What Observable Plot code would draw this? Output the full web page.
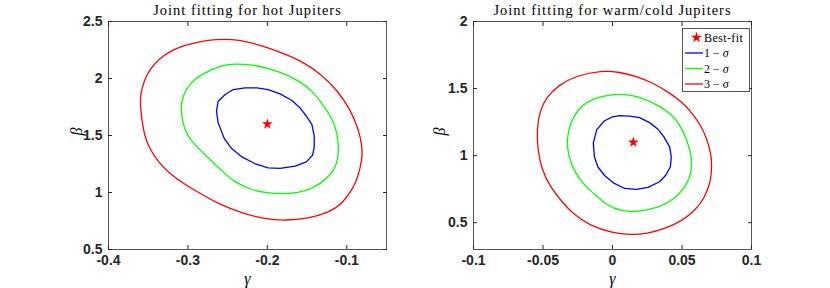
<!DOCTYPE html>
<html><head><meta charset="utf-8">
<script src="https://cdn.jsdelivr.net/npm/d3@7"></script>
<script src="https://cdn.jsdelivr.net/npm/@observablehq/plot@0.6"></script>
<style>
body{margin:0;background:#fff;}
#wrap{position:relative;width:830px;height:288px;overflow:hidden;background:#fff;}
.panel{position:absolute;top:0;}
.legend{position:absolute;left:682px;top:28px;width:68px;height:64px;border:1px solid #555;background:#fff;box-sizing:border-box;}
</style></head><body><div id="wrap"></div>
<script>
const titles = ["Joint fitting for hot Jupiters", "Joint fitting for warm/cold Jupiters"];
const levelNames = ["1", "2", "3"];
const levelColors = ["#0000ff", "#00ff00", "#ff0000"];
const bestLabel = "Best-fit";

const hotXTicks = [-0.4, -0.3, -0.2, -0.1];
const hotYTicks = [0.5, 1, 1.5, 2, 2.5];
const warmXTicks = [-0.1, -0.05, 0, 0.05, 0.1];
const warmYTicks = [0.5, 1, 1.5, 2];
const hotXDomain = [-0.4, -0.05];
const hotYDomain = [0.5, 2.5];
const warmXDomain = [-0.1, 0.1];
const warmYDomain = [0.3, 2];

const hotBest = [[-0.2, 1.6]];
const warmBest = [[0.015, 1.1]];

const hot1 = [[-0.228,1.917],[-0.213,1.917],[-0.199,1.903],[-0.184,1.865],[-0.169,1.807],[-0.159,1.743],[-0.151,1.671],[-0.144,1.598],[-0.141,1.497],[-0.141,1.399],[-0.143,1.327],[-0.151,1.269],[-0.165,1.231],[-0.184,1.211],[-0.199,1.216],[-0.216,1.254],[-0.232,1.312],[-0.245,1.385],[-0.254,1.470],[-0.262,1.613],[-0.264,1.714],[-0.262,1.801],[-0.253,1.859],[-0.243,1.903]];
const hot2 = [[-0.257,2.120],[-0.239,2.129],[-0.220,2.120],[-0.199,2.091],[-0.178,2.042],[-0.158,1.970],[-0.143,1.888],[-0.132,1.787],[-0.1225,1.695],[-0.114,1.578],[-0.110,1.434],[-0.111,1.289],[-0.116,1.190],[-0.1288,1.100],[-0.143,1.035],[-0.160,1.000],[-0.178,0.987],[-0.198,0.993],[-0.220,1.022],[-0.242,1.090],[-0.2587,1.202],[-0.2725,1.290],[-0.2865,1.385],[-0.3006,1.491],[-0.3069,1.608],[-0.309,1.752],[-0.3069,1.839],[-0.2986,1.956],[-0.2818,2.042]];
const hot3 = [[-0.264,2.343],[-0.245,2.344],[-0.226,2.325],[-0.207,2.288],[-0.182,2.227],[-0.158,2.158],[-0.133,2.043],[-0.112,1.897],[-0.095,1.723],[-0.085,1.549],[-0.0805,1.404],[-0.0805,1.289],[-0.0868,1.115],[-0.0931,1.028],[-0.106,0.898],[-0.123,0.825],[-0.148,0.773],[-0.178,0.753],[-0.203,0.767],[-0.232,0.819],[-0.262,0.901],[-0.284,0.990],[-0.304,1.072],[-0.322,1.160],[-0.337,1.265],[-0.347,1.370],[-0.353,1.463],[-0.357,1.578],[-0.3603,1.782],[-0.3594,1.869],[-0.3552,1.984],[-0.347,2.090],[-0.336,2.175],[-0.322,2.240],[-0.305,2.290],[-0.285,2.325]];

const warm1 = [[0.0052,1.298],[0.0124,1.295],[0.0195,1.283],[0.0267,1.246],[0.0327,1.197],[0.0370,1.140],[0.0412,1.063],[0.0423,0.989],[0.0416,0.915],[0.0383,0.854],[0.0339,0.805],[0.0255,0.763],[0.0171,0.748],[0.0088,0.755],[0.0006,0.797],[-0.0055,0.850],[-0.0105,0.915],[-0.0130,0.990],[-0.0138,1.093],[-0.0114,1.192],[-0.0060,1.258],[0.0000,1.289]];
const warm2 = [[0.0018,1.463],[0.0147,1.451],[0.0243,1.419],[0.0339,1.369],[0.0423,1.308],[0.0483,1.234],[0.0530,1.130],[0.0567,1.014],[0.0572,0.915],[0.0555,0.829],[0.0507,0.743],[0.0435,0.669],[0.0339,0.615],[0.0183,0.578],[0.0052,0.587],[-0.0040,0.632],[-0.0114,0.698],[-0.0198,0.772],[-0.0270,0.871],[-0.0318,0.994],[-0.0330,1.118],[-0.0306,1.241],[-0.0246,1.352],[-0.0150,1.426]];
const warm3 = [[-0.0078,1.635],[0.0052,1.623],[0.0171,1.591],[0.0291,1.542],[0.0411,1.468],[0.0507,1.394],[0.0579,1.308],[0.0639,1.221],[0.0680,1.120],[0.0708,1.020],[0.0716,0.920],[0.0705,0.800],[0.0665,0.690],[0.0595,0.590],[0.0500,0.515],[0.0380,0.455],[0.0250,0.418],[0.0124,0.410],[0.0004,0.422],[-0.0164,0.478],[-0.0290,0.570],[-0.0378,0.674],[-0.0450,0.772],[-0.0509,0.896],[-0.0538,1.044],[-0.0545,1.192],[-0.0522,1.340],[-0.0473,1.438],[-0.0390,1.524],[-0.0258,1.598]];

const ink = "#262626";
const sansFont = "'Liberation Sans', Arial, Helvetica, sans-serif";
const serifFont = "'Liberation Serif', 'Times New Roman', serif";
const curves = ["linear-closed", "basis-closed", "basis-closed"];

function panel({title, contours, best, xDomain, yDomain, xTicks, yTicks, marginLeft, marginRight, betaDx}) {
  const lineMarks = contours.map((c, i) => Plot.line(c, {
    x: d => d[0], y: d => d[1], stroke: levelColors[i], strokeWidth: 1.3, curve: curves[i]
  }));
  const fmt = d => String(d);
  const blank = () => "";
  const svg = Plot.plot({
    width: 415, height: 288,
    marginLeft, marginRight, marginTop: 21, marginBottom: 39,
    x: {domain: xDomain, label: null},
    y: {domain: yDomain, label: null},
    style: {background: "white", color: ink, fontFamily: sansFont, overflow: "visible"},
    marks: [
      ...lineMarks,
      Plot.dot(best, {x: d => d[0], y: d => d[1], symbol: "star", fill: "#ff0000", stroke: "none", r: 3.4}),
      Plot.frame({stroke: "#555", strokeWidth: 1}),
      Plot.axisX(xTicks, {anchor: "bottom", tickSize: 0, tickPadding: 6, tickFormat: fmt, fontSize: 14, fontWeight: "bold", fill: ink, label: null}),
      Plot.axisX(xTicks, {anchor: "bottom", tickSize: -4, tickFormat: blank, stroke: ink, label: null}),
      Plot.axisX(xTicks, {anchor: "top", tickSize: -4, tickFormat: blank, stroke: ink, label: null}),
      Plot.axisY(yTicks, {anchor: "left", tickSize: 0, tickPadding: 6, tickFormat: fmt, fontSize: 14, fontWeight: "bold", fill: ink, label: null}),
      Plot.axisY(yTicks, {anchor: "left", tickSize: -4, tickFormat: blank, stroke: ink, label: null}),
      Plot.axisY(yTicks, {anchor: "right", tickSize: -4, tickFormat: blank, stroke: ink, label: null}),
      Plot.text([title], {text: d => d, frameAnchor: "top", lineAnchor: "bottom", dy: -7, fontFamily: serifFont, fontSize: 14.5, fill: "#000"}),
      Plot.text(["γ"], {text: d => d, frameAnchor: "bottom", lineAnchor: "middle", dy: 29, fontFamily: serifFont, fontStyle: "italic", fontSize: 16, fill: "#000"}),
      Plot.text(["β"], {text: d => d, frameAnchor: "left", lineAnchor: "middle", dx: betaDx, rotate: -90, fontFamily: serifFont, fontStyle: "italic", fontSize: 16, fill: "#000"})
    ]
  });
  d3.select(svg).selectAll("text").filter(function() { return this.textContent === title; }).style("letter-spacing", "1px");
  return svg;
}

const wrap = document.getElementById("wrap");
const left = panel({title: titles[0], contours: [hot1, hot2, hot3], best: hotBest, xDomain: hotXDomain, yDomain: hotYDomain, xTicks: hotXTicks, yTicks: hotYTicks, marginLeft: 108, marginRight: 29, betaDx: -32});
const right = panel({title: titles[1], contours: [warm1, warm2, warm3], best: warmBest, xDomain: warmXDomain, yDomain: warmYDomain, xTicks: warmXTicks, yTicks: warmYTicks, marginLeft: 58, marginRight: 79, betaDx: -34});
left.classList.add("panel"); left.style.left = "0px";
right.classList.add("panel"); right.style.left = "415px";
wrap.appendChild(left); wrap.appendChild(right);

// legend
const leg = d3.select(wrap).append("div").attr("class", "legend");
const ls = leg.append("svg").attr("width", 66).attr("height", 62).style("display", "block");
const rowY = [8.5, 24, 39.5, 55];
ls.append("path").attr("d", d3.symbol(d3.symbolStar, Math.PI * 3.5 * 3.5)()).attr("transform", `translate(13.5,${rowY[0]})`).attr("fill", "#ff0000");
ls.append("text").attr("x", 21).attr("y", rowY[0]).attr("dy", "0.34em").attr("font-family", serifFont).attr("font-size", 12).style("letter-spacing", "0.4px").text(bestLabel);
levelNames.forEach((n, i) => {
  const y = rowY[i + 1];
  ls.append("line").attr("x1", 2).attr("x2", 20).attr("y1", y).attr("y2", y).attr("stroke", levelColors[i]).attr("stroke-width", 1.3);
  const t = ls.append("text").attr("x", 21).attr("y", y).attr("dy", "0.34em").attr("font-family", serifFont).attr("font-size", 12);
  t.append("tspan").text(n + " \u2212 ");
  t.append("tspan").attr("font-style", "italic").text("\u03c3");
});
</script></body></html>
